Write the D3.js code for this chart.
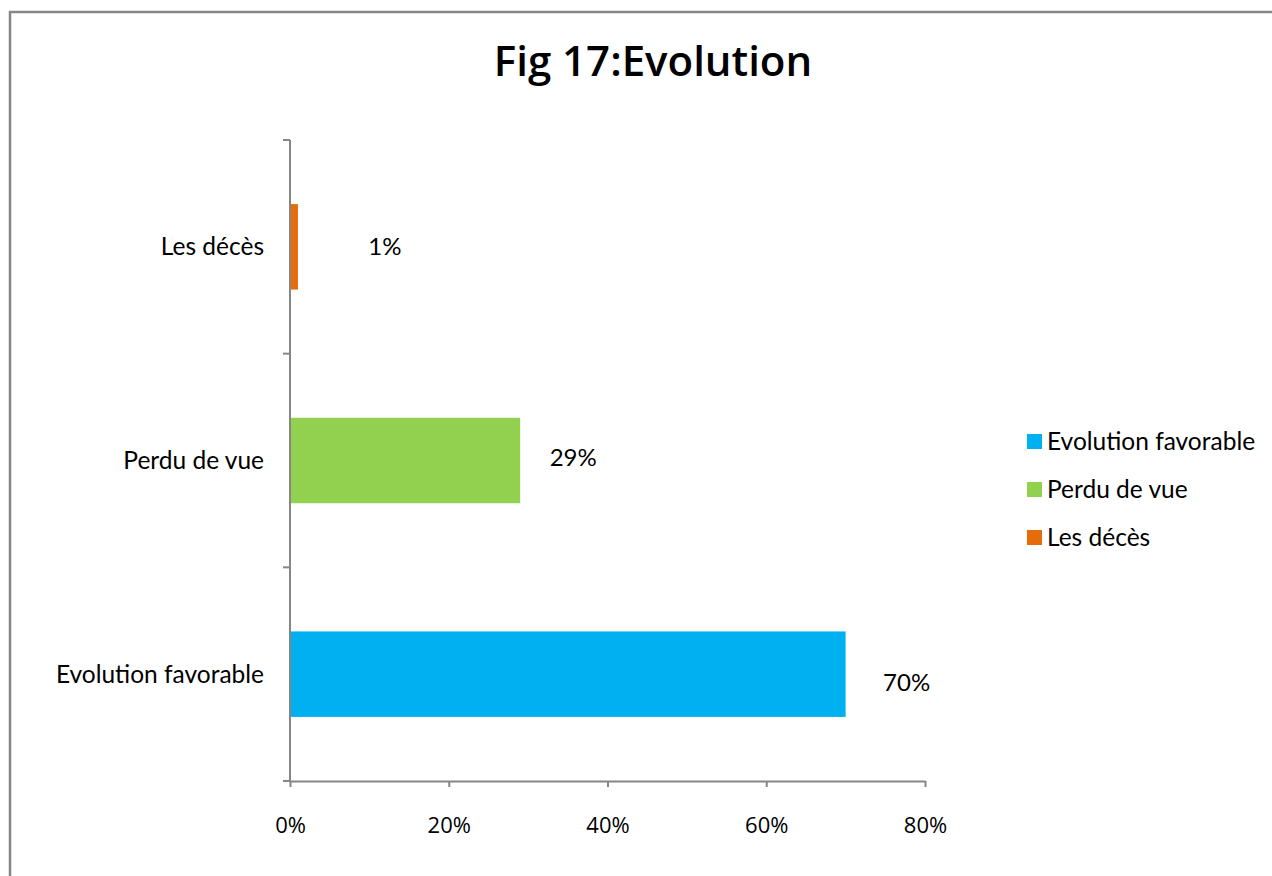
<!DOCTYPE html>
<html><head><meta charset="utf-8">
<script src="https://cdn.jsdelivr.net/npm/d3@7"></script>
<style>
html,body{margin:0;padding:0;background:#fff;}
svg{display:block;}
</style></head>
<body>
<script>
const categories = ["Evolution favorable", "Perdu de vue", "Les décès"];
const values = [70, 29, 1];
const colors = ["#00B0F0", "#92D050", "#E46C0A"];
const xTicks = [0, 20, 40, 60, 80];
const valueLabels = ["70%", "29%", "1%"];
const title = "Fig 17:Evolution";

const W = 1272, H = 876;
const svg = d3.select("body").append("svg").attr("width", W).attr("height", H);

svg.append("rect").attr("x", 10).attr("y", 12).attr("width", W + 10).attr("height", H + 10)
  .attr("fill", "#fff").attr("stroke", "#868686").attr("stroke-width", 2.5);

svg.append("text").attr("x", 653).attr("y", 76).attr("text-anchor", "middle")
  .attr("font-family", "'Open Sans', sans-serif").attr("font-weight", 600)
  .attr("font-size", 42).attr("fill", "#000").text(title);

const plot = {left: 290, right: 925, top: 140, bottom: 781};
const x = d3.scaleLinear().domain([0, 80]).range([plot.left, plot.right]);
const y = d3.scaleBand().domain(categories.slice().reverse()).range([plot.top, plot.bottom]).paddingInner(0.6).paddingOuter(0.3);
const yb = d3.scaleBand().domain(categories.slice().reverse()).range([plot.top, plot.bottom]);

// bars
svg.append("g").selectAll("rect").data(categories).join("rect")
  .attr("x", x(0) + 1)
  .attr("y", (d) => y(d))
  .attr("width", (d, i) => x(values[i]) - x(0) - 1)
  .attr("height", y.bandwidth())
  .attr("fill", (d, i) => colors[i]);

// x axis
const gx = svg.append("g").attr("transform", `translate(0,${plot.bottom})`)
  .call(d3.axisBottom(x).tickValues(xTicks).tickFormat(d => d + "%").tickSize(6).tickSizeOuter(0));
gx.select(".domain").attr("stroke", "#868686").attr("stroke-width", 2);
gx.selectAll(".tick line").attr("stroke", "#868686").attr("stroke-width", 2);
gx.selectAll(".tick text").attr("font-family", "'Open Sans', sans-serif")
  .attr("font-size", 22).attr("fill", "#000").attr("y", 36).attr("dy", "0.71em");

// y axis: line plus band boundary ticks
const gy = svg.append("g");
gy.append("line").attr("x1", plot.left).attr("x2", plot.left).attr("y1", plot.top).attr("y2", plot.bottom)
  .attr("stroke", "#868686").attr("stroke-width", 2);
const bounds = categories.slice().reverse().map(c => yb(c)).concat([plot.bottom]);
gy.selectAll("line.t").data(bounds).join("line").attr("class", "t")
  .attr("x1", plot.left - 7).attr("x2", plot.left).attr("y1", d => d).attr("y2", d => d)
  .attr("stroke", "#868686").attr("stroke-width", 2);
gy.selectAll("text").data(categories).join("text")
  .attr("x", plot.left - 26).attr("y", d => yb(d) + yb.bandwidth() / 2)
  .attr("dy", "0.35em").attr("text-anchor", "end")
  .attr("font-family", "Lato, 'Open Sans', sans-serif").attr("font-size", 24.5).attr("fill", "#000")
  .text(d => d);

// value labels
const labelDx = [61, 53, 87];
const labelDy = [8, -3, 0];
svg.append("g").selectAll("text").data(categories).join("text")
  .attr("x", (d, i) => x(values[i]) + labelDx[i])
  .attr("y", (d, i) => y(d) + y.bandwidth() / 2 + labelDy[i])
  .attr("dy", "0.35em").attr("text-anchor", "middle")
  .attr("font-family", "Lato, 'Open Sans', sans-serif").attr("font-size", 24).attr("fill", "#000")
  .text((d, i) => valueLabels[i]);

// legend
const lg = svg.append("g").attr("transform", "translate(1027,441)");
const items = lg.selectAll("g").data(categories).join("g")
  .attr("transform", (d, i) => `translate(0,${i * 48})`);
items.append("rect").attr("x", 0).attr("y", -7).attr("width", 15).attr("height", 15)
  .attr("fill", (d, i) => colors[i]);
items.append("text").attr("x", 20).attr("y", 0).attr("dy", "0.35em")
  .attr("font-family", "Lato, 'Open Sans', sans-serif").attr("font-size", 24.5).attr("fill", "#000")
  .text(d => d);
</script>
</body></html>
